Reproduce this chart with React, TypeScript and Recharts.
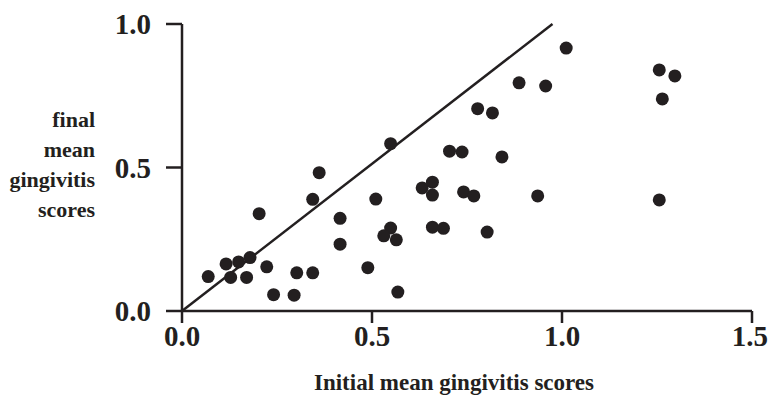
import React from 'react';
import {
  ScatterChart,
  Scatter,
  XAxis,
  YAxis,
  ReferenceLine,
} from 'recharts';

const initialScores = [
  0.069, 0.116, 0.128, 0.149, 0.17, 0.179, 0.203, 0.223, 0.241, 0.295, 0.302,
  0.344, 0.344, 0.361, 0.416, 0.416, 0.489, 0.51, 0.549, 0.531, 0.564, 0.568,
  0.549, 1.011, 1.256, 1.297, 1.264, 0.887, 0.957, 0.778, 0.817, 0.704, 0.737,
  0.842, 0.632, 0.659, 0.659, 0.741, 0.768, 0.936, 1.256, 0.659, 0.688, 0.803,
];

const finalScores = [
  0.12, 0.164, 0.117, 0.171, 0.117, 0.186, 0.339, 0.154, 0.057, 0.055, 0.133,
  0.133, 0.389, 0.482, 0.323, 0.233, 0.151, 0.39, 0.289, 0.262, 0.248, 0.066,
  0.583, 0.916, 0.84, 0.819, 0.739, 0.795, 0.784, 0.705, 0.69, 0.557, 0.554,
  0.537, 0.429, 0.449, 0.404, 0.415, 0.401, 0.401, 0.387, 0.292, 0.288, 0.275,
];

const xTicks = [0, 0.5, 1, 1.5];
const yTicks = [0, 0.5, 1];
const yTitleLines = ['final', 'mean', 'gingivitis', 'scores'];
const xTitle = 'Initial mean gingivitis scores';

// line of equality, as drawn in the figure
const equalityLine = [
  { x: 0, y: 0 },
  { x: 0.975, y: 1 },
];

const ink = '#231f20';
const serif = '"Liberation Serif", "Times New Roman", serif';

const points = initialScores.map((x, i) => ({ x, y: finalScores[i] }));

function Dot(props: any) {
  return <circle cx={props.cx} cy={props.cy} r={6.5} fill={ink} />;
}

function YTitle() {
  return (
    <text
      textAnchor="end"
      fontFamily={serif}
      fontWeight="bold"
      fontSize={22}
      fill={ink}
    >
      {yTitleLines.map((line, i) => (
        <tspan key={line} x={95} y={127 + i * 30}>
          {line}
        </tspan>
      ))}
    </text>
  );
}

function XTitle() {
  return (
    <text
      x={454}
      y={390}
      textAnchor="middle"
      fontFamily={serif}
      fontWeight="bold"
      fontSize={23}
      fill={ink}
    >
      {xTitle}
    </text>
  );
}

const tickStyle = {
  fill: ink,
  fontFamily: serif,
  fontWeight: 'bold' as const,
  fontSize: 29,
};

export default function App() {
  return (
    <div style={{ position: 'absolute', left: 0, top: 0, background: '#fff' }}>
      <ScatterChart
        width={768}
        height={396}
        margin={{ top: 24, right: 16, bottom: 0, left: 0 }}
      >
        <XAxis
          type="number"
          dataKey="x"
          domain={[0, 1.5]}
          ticks={xTicks}
          tickFormatter={(v) => v.toFixed(1)}
          height={85}
          tickSize={12}
          tickMargin={2}
          stroke={ink}
          strokeWidth={2.5}
          tick={tickStyle}
          tickLine={{ stroke: ink, strokeWidth: 2.5 }}
          label={<XTitle />}
        />
        <YAxis
          type="number"
          dataKey="y"
          domain={[0, 1]}
          ticks={yTicks}
          tickFormatter={(v) => v.toFixed(1)}
          width={182}
          tickSize={16}
          tickMargin={15}
          stroke={ink}
          strokeWidth={2.5}
          tick={tickStyle}
          tickLine={{ stroke: ink, strokeWidth: 2.5 }}
          label={<YTitle />}
        />
        <ReferenceLine
          segment={equalityLine}
          stroke={ink}
          strokeWidth={2.5}
        />
        <Scatter data={points} shape={<Dot />} isAnimationActive={false} />
      </ScatterChart>
    </div>
  );
}
